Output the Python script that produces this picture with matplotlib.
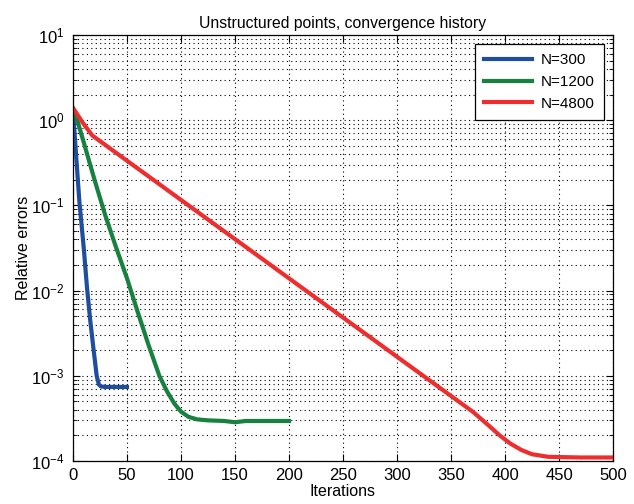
import matplotlib
matplotlib.use("Agg")
import matplotlib.pyplot as plt
import numpy as np

matplotlib.rcParams.update({
    'font.family': 'Liberation Sans',
    'font.size': 11.5,
})

# convergence histories
it_300 = [0, 3, 6, 10, 13, 16, 19, 22, 24, 26, 30, 40, 50]
err_300 = [1.35, 0.38, 0.11, 0.032, 0.011, 0.0045, 0.0021, 0.001, 7.9e-4, 7.5e-4, 7.4e-4, 7.4e-4, 7.4e-4]

it_1200 = [0, 4, 10, 20, 30, 40, 50, 60, 70, 80, 87, 94, 100, 107, 115, 125, 140, 150, 160, 200]
err_1200 = [1.3, 1.0, 0.55, 0.2, 0.076, 0.032, 0.014, 5.6e-3, 2.3e-3, 1.0e-3, 6.6e-4, 4.7e-4,
            3.8e-4, 3.3e-4, 3.08e-4, 3.0e-4, 2.95e-4, 2.85e-4, 2.95e-4, 2.95e-4]

it_4800 = [0, 5, 10, 18, 350, 370, 385, 395, 405, 415, 425, 440, 470, 500]
err_4800 = [1.4, 1.12, 0.9, 0.66, 5.8e-4, 3.8e-4, 2.6e-4, 2.0e-4, 1.6e-4, 1.35e-4, 1.2e-4,
            1.12e-4, 1.1e-4, 1.1e-4]

labels = ["N=300", "N=1200", "N=4800"]

fig = plt.figure(figsize=(6.34, 5.04), dpi=100)
ax = fig.add_axes([0.115, 0.0853, 0.852, 0.8453])

ax.semilogy(it_300, err_300, color='#1f4e9f', lw=3, label=labels[0])
ax.semilogy(it_1200, err_1200, color='#17823f', lw=3, label=labels[1])
ax.semilogy(it_4800, err_4800, color='#ee2e2e', lw=3, label=labels[2])

ax.set_xlim(0, 500)
ax.set_ylim(1e-4, 1e1)
ax.set_xticks(np.arange(0, 501, 50))

dots = (0, (1, 3))
ax.grid(True, which='major', axis='both', color='black', linestyle=dots, lw=0.8)
ax.grid(True, which='minor', axis='y', color='black', linestyle=dots, lw=0.8)

ax.tick_params(which='both', direction='in', top=True, right=True, labelsize=12)
ax.tick_params(which='major', length=5)
ax.tick_params(which='minor', length=3)
ax.tick_params(axis='x', pad=5)
ax.tick_params(axis='y', pad=6)
for s in ax.spines.values():
    s.set_linewidth(0.9)

ax.set_title('Unstructured points, convergence history', fontsize=11.3, pad=5)
ax.set_xlabel('Iterations', labelpad=1)
ax.set_ylabel('Relative errors', labelpad=0)

leg = ax.legend(loc='upper right', fancybox=False, framealpha=1, edgecolor='black',
                fontsize=11, handlelength=3.1, handletextpad=0.6, borderpad=0.6,
                labelspacing=0.5, borderaxespad=0.6)
leg.get_frame().set_linewidth(0.9)

fig.savefig('out.png', dpi=100)
